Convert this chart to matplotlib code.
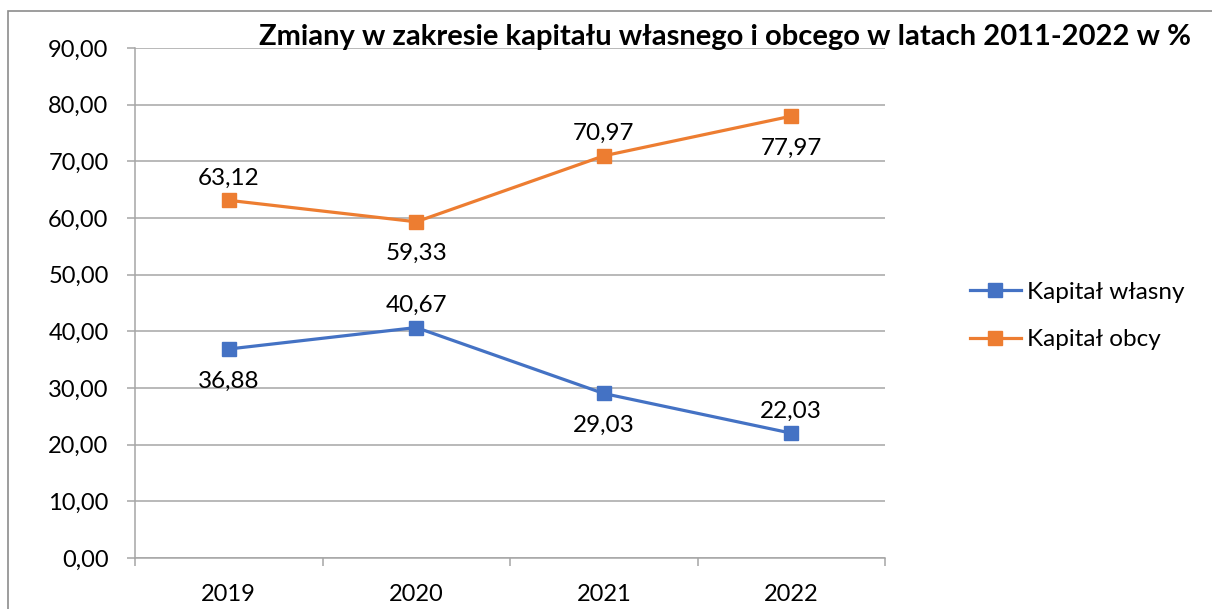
import matplotlib
matplotlib.use("Agg")
import matplotlib.pyplot as plt
from matplotlib.patches import Rectangle

plt.rcParams['font.family'] = ['Lato', 'DejaVu Sans']

years = ["2019", "2020", "2021", "2022"]
wlasny = [36.88, 40.67, 29.03, 22.03]
obcy = [63.12, 59.33, 70.97, 77.97]
series_names = ["Kapitał własny", "Kapitał obcy"]
title = "Zmiany w zakresie kapitału własnego i obcego w latach 2011-2022 w %"
yticks = [0, 10, 20, 30, 40, 50, 60, 70, 80, 90]

W, H = 1212, 609
fig = plt.figure(figsize=(W / 100, H / 100), dpi=100)
ax = fig.add_axes([135 / W, 1 - 558 / H, (885 - 135) / W, (558 - 48) / H])

# outer chart border (top & left visible, cropped on right/bottom)
fig.add_artist(Rectangle((8 / W, -0.1), 1.2, 1 - 11 / H + 0.1, transform=fig.transFigure,
                         fill=False, edgecolor='#8c8c8c', linewidth=1.2))

blue = '#4472C4'
orange = '#ED7D31'
x = list(range(len(years)))

ax.plot(x, wlasny, color=blue, linewidth=2.3, marker='s', markersize=9.5,
        label=series_names[0], zorder=3)
ax.plot(x, obcy, color=orange, linewidth=2.3, marker='s', markersize=9.5,
        label=series_names[1], zorder=3)

ax.set_xlim(-0.5, len(years) - 0.5)
ax.set_ylim(0, 90)
ax.set_yticks(yticks)
ax.set_yticklabels([f"{v:.2f}".replace('.', ',') for v in yticks])
ax.set_xticks(x)
ax.set_xticklabels(years)
ax.set_xticks([i - 0.5 for i in range(len(years) + 1)], minor=True)

ax.grid(axis='y', color='#a6a6a6', linewidth=1.1)
ax.set_axisbelow(True)
for s in ['top', 'right']:
    ax.spines[s].set_visible(False)
for s in ['left', 'bottom']:
    ax.spines[s].set_color('#a6a6a6')
    ax.spines[s].set_linewidth(1.1)

ax.tick_params(axis='y', length=6, width=1.1, color='#a6a6a6', pad=13, labelsize=17)
ax.tick_params(axis='x', which='major', length=0, pad=19, labelsize=17)
ax.tick_params(axis='x', which='minor', length=6, width=1.1, color='#a6a6a6')

def lab(v):
    return f"{v:.2f}".replace('.', ',')

# data labels: position above (+) or below (-)
pos_w = [-1, 1, -1, 1]
pos_o = [1, -1, 1, -1]
for xi, v, p in zip(x, wlasny, pos_w):
    ax.annotate(lab(v), (xi, v), xytext=(0, (16 if p > 0 else -23)), textcoords='offset points',
                ha='center', va='center', fontsize=17.5)
for xi, v, p in zip(x, obcy, pos_o):
    ax.annotate(lab(v), (xi, v), xytext=(0, (16 if p > 0 else -23)), textcoords='offset points',
                ha='center', va='center', fontsize=17.5)

fig.text(725 / W, 1 - 37 / H, title, ha='center', va='center', fontsize=21, fontweight='bold')

fig.legend(loc='center left', bbox_to_anchor=(948 / W, 1 - 316 / H), frameon=False,
           fontsize=17.5, handlelength=2.1, handletextpad=0.25, labelspacing=1.1)

fig.savefig("out.png", dpi=100)
